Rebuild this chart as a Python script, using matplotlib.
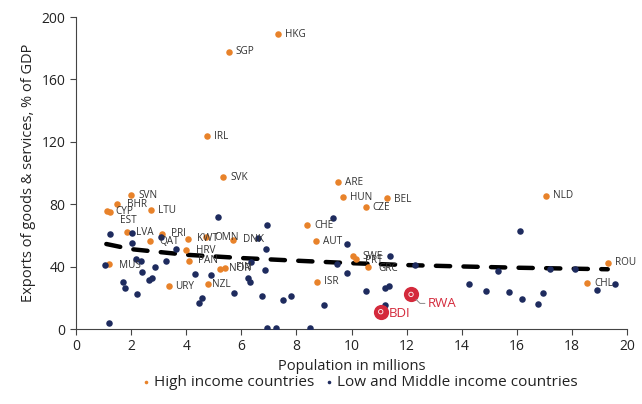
import numpy as np
import matplotlib
matplotlib.use("Agg")
import matplotlib.pyplot as plt

plt.rcParams['font.family'] = ['Open Sans', 'DejaVu Sans']

# high income countries (population in millions, exports % of GDP)
hi_codes = ["HKG", "SGP", "IRL", "SVK", "SVN", "BHR", "CYP", "EST", "LTU", "LVA",
            "PRI", "QAT", "KWT", "OMN", "DNK", "HRV", "PAN", "MUS", "URY", "NZL",
            "NOR", "FIN", "CHE", "AUT", "ARE", "HUN", "BEL", "CZE", "ISR", "SWE",
            "PRT", "GRC", "NLD", "ROU", "CHL"]
hi_pop = [7.33, 5.55, 4.77, 5.35, 2.00, 1.50, 1.11, 1.23, 2.72, 1.84,
          3.11, 2.70, 4.05, 4.73, 5.70, 3.99, 4.09, 1.21, 3.38, 4.80,
          5.23, 5.42, 8.40, 8.72, 9.51, 9.68, 11.30, 10.52, 8.76, 10.04,
          10.15, 10.61, 17.06, 19.31, 18.56]
hi_exp = [188.9, 177.6, 123.7, 97.2, 85.7, 80.1, 75.8, 75.2, 76.1, 62.0,
          61.1, 56.6, 57.9, 58.8, 57.1, 50.6, 43.6, 41.9, 27.4, 28.7,
          38.5, 39.3, 66.5, 56.2, 94.0, 84.6, 84.0, 78.0, 30.3, 46.8,
          44.9, 39.9, 85.4, 42.5, 29.3]

# low and middle income countries
lm_pop = [1.23, 2.02, 2.05, 3.09, 3.63, 5.14, 1.07, 2.18, 2.37, 2.38,
          2.87, 2.76, 2.64, 3.26, 1.72, 1.79, 2.21, 1.21, 4.32, 4.90,
          4.58, 4.48, 5.73, 6.92, 6.89, 6.85, 6.60, 6.35, 6.23, 6.33,
          6.74, 6.92, 7.27, 8.50, 7.52, 7.79, 9.32, 9.83, 9.48, 9.83,
          8.99, 11.40, 12.29, 10.52, 11.23, 11.35, 11.23, 11.00, 14.28, 14.87,
          15.31, 15.71, 16.11, 16.19, 16.78, 16.94, 17.19, 18.11, 18.91, 19.56]
lm_exp = [60.6, 61.3, 55.3, 58.7, 51.3, 72.0, 41.2, 45.1, 43.3, 36.5,
          39.6, 32.5, 31.2, 43.3, 29.9, 26.1, 22.6, 3.8, 35.3, 34.6,
          20.1, 16.5, 23.3, 66.7, 51.3, 37.8, 58.1, 43.1, 32.9, 29.9,
          21.2, 0.4, 0.4, 0.4, 18.6, 21.2, 71.3, 54.5, 41.7, 36.1,
          15.4, 46.6, 41.2, 24.6, 26.5, 27.8, 15.2, 11.9, 28.7, 24.6,
          37.2, 23.9, 62.8, 19.2, 15.8, 23.3, 38.7, 38.7, 25.2, 28.7]

# highlighted countries
hl_codes = ["BDI", "RWA"]
hl_pop = [11.06, 12.16]
hl_exp = [11.1, 22.2]

# trend line
trend_pop = [1.1, 2, 4, 6, 8, 10, 12, 14, 16, 19.3]
trend_exp = [54.5, 51.2, 47.6, 45.5, 43.8, 42.2, 41.0, 40.1, 39.3, 38.3]

orange = "#E8822A"
navy = "#1E2B5E"
red = "#D42A3C"
txt = "#333333"

fig = plt.figure(figsize=(6.42, 4.04), dpi=100)
ax = fig.add_axes([0.1184, 0.1856, 0.8583, 0.7723])

ax.plot(trend_pop, trend_exp, color="black", lw=3.2, dashes=(3.2, 3.0),
        dash_capstyle="round", zorder=2)
sc_hi = ax.scatter(hi_pop, hi_exp, s=22, color=orange, lw=0, zorder=3)
sc_lm = ax.scatter(lm_pop, lm_exp, s=22, color=navy, lw=0, zorder=3)

# label offsets in points (default right of the point)
offsets = {"BHR": (7, 0), "CYP": (6, -0.5), "EST": (7, -6.5), "LVA": (7, 0),
           "PRI": (7, 0.5), "QAT": (6.5, -0.5), "KWT": (7, 0), "OMN": (6, 0),
           "DNK": (7, 0), "HRV": (7, 0), "PAN": (7, 0), "MUS": (7, -1),
           "NOR": (6.5, 0), "FIN": (7.5, 0), "SWE": (7, 0), "PRT": (6.5, -1),
           "GRC": (7, -1.5), "BEL": (5, -1), "NZL": (3, 0), "URY": (4.5, 0)}
for c, x, y in zip(hi_codes, hi_pop, hi_exp):
    dx, dy = offsets.get(c, (5, 0))
    ax.annotate(c, (x, y), xytext=(dx, dy), textcoords="offset points",
                fontsize=7.2, color=txt, va="center", ha="left", zorder=4)

ax.scatter(hl_pop, hl_exp, s=120, color=red, lw=0, zorder=5)
ax.scatter(hl_pop, hl_exp, s=10, facecolor="none", edgecolor="white", lw=0.6, zorder=6)
ax.annotate("BDI", (hl_pop[0], hl_exp[0]), xytext=(6, -1), textcoords="offset points",
            fontsize=9.5, color=red, va="center", ha="left", zorder=6)
ax.annotate("RWA", (hl_pop[1], hl_exp[1]), xytext=(12, -6.5), textcoords="offset points",
            fontsize=9.5, color=red, va="center", ha="left", zorder=6,
            arrowprops=dict(arrowstyle="-", color="#888888", lw=0.7,
                            shrinkA=0, shrinkB=5,
                            connectionstyle="angle,angleA=0,angleB=-45,rad=0"))

ax.set_xlim(0, 20)
ax.set_ylim(0, 200)
ax.set_xticks(np.arange(0, 21, 2))
ax.set_yticks(np.arange(0, 201, 40))
for s in ["top", "right"]:
    ax.spines[s].set_visible(False)
for s in ["left", "bottom"]:
    ax.spines[s].set_color("#444444")
    ax.spines[s].set_linewidth(0.8)
ax.tick_params(direction="out", length=4, width=0.8, color="#444444",
               labelsize=10, labelcolor="#222222")
ax.set_xlabel("Population in millions", fontsize=10.5, color="#222222", labelpad=3)
ax.set_ylabel("Exports of goods & services, % of GDP", fontsize=10.5,
              color="#222222", labelpad=4)

fig.legend([sc_hi, sc_lm], ["High income countries", "Low and Middle income countries"],
           loc="center", bbox_to_anchor=(0.561, 0.052), ncol=2, frameon=False,
           fontsize=11, markerscale=0.55, handlelength=0.4, handletextpad=0.3,
           columnspacing=0.8, labelcolor="#222222")

fig.savefig("out.png", dpi=100)
